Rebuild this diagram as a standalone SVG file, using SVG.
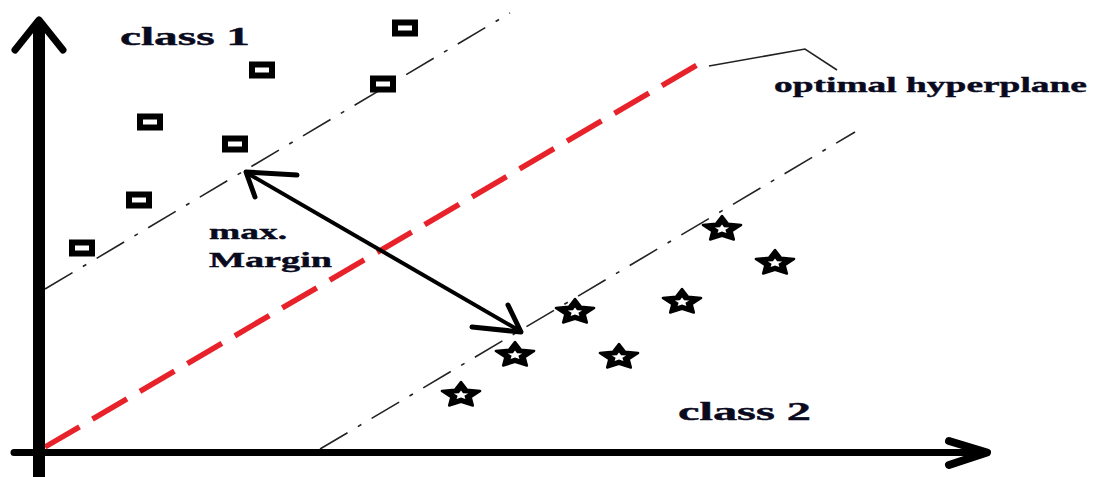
<svg xmlns="http://www.w3.org/2000/svg" width="1096" height="477" viewBox="0 0 1096 477">
<style>
.lbl{font-family:"Liberation Serif","Times New Roman",serif;font-weight:bold;fill:#0a0a1e;stroke:#0a0a1e;stroke-width:0.4}
.margin{fill:none;stroke:#222;stroke-width:1.6;stroke-dasharray:32 12 4 12}
.axis{fill:none;stroke:#000;stroke-linecap:round;stroke-linejoin:round}
.sq{fill:#fff;stroke:#000;stroke-width:6}
</style>
<defs>
<g id="star">
<polygon points="0,-13 6,-5.3 19.1,-4 9.6,2.1 11.85,10.5 0,6.8 -11.85,10.5 -9.6,2.1 -19.1,-4 -6,-5.3" fill="#000" stroke="#000" stroke-width="2.5" stroke-linejoin="round"/>
<polygon points="0,-4.6 2.1,-1.8 7.2,-1.5 3.4,0.8 4.4,4 0,2.4 -4.4,4 -3.4,0.8 -7.2,-1.5 -2.1,-1.8" fill="#fff"/>
</g>
</defs>
<rect width="1096" height="477" fill="#fff"/>
<g id="connectors">
<line class="margin" x1="45" y1="289" x2="510" y2="13"/>
<line class="margin" x1="320" y1="449" x2="855" y2="132"/>
<line x1="45" y1="447" x2="697" y2="65" stroke="#e8222a" stroke-width="5.5" stroke-dasharray="40 15"/>
<polyline points="709,66 805,49 837,70" fill="none" stroke="#222" stroke-width="1.5"/>
<line x1="39" y1="22" x2="39" y2="477" stroke="#000" stroke-width="12"/>
<polyline class="axis" points="15,50 39,20 63,50" stroke-width="7"/>
<line x1="14" y1="452.5" x2="984" y2="452.5" stroke="#000" stroke-width="7" stroke-linecap="round"/>
<polyline class="axis" points="949,441 987,452.5 949,465" stroke-width="8"/>
<line x1="247" y1="173" x2="520" y2="331" stroke="#000" stroke-width="4"/>
<polyline class="axis" points="297,175 246,172 255,197" stroke-width="5"/>
<polyline class="axis" points="472,327 521,332 508,305" stroke-width="5"/>
</g>
<g id="class1-points">
<rect class="sq" x="395" y="22.5" width="20" height="11"/>
<rect class="sq" x="252" y="64.5" width="20" height="11"/>
<rect class="sq" x="373" y="78.5" width="20" height="11"/>
<rect class="sq" x="140" y="116.5" width="20" height="11"/>
<rect class="sq" x="225" y="138.5" width="20" height="11"/>
<rect class="sq" x="129" y="194.5" width="20" height="11"/>
<rect class="sq" x="72" y="242.5" width="20" height="11"/>
</g>
<g id="class2-points">
<use href="#star" x="722" y="229"/>
<use href="#star" x="775" y="263"/>
<use href="#star" x="682" y="302"/>
<use href="#star" x="575" y="312"/>
<use href="#star" x="515" y="355"/>
<use href="#star" x="619" y="357"/>
<use href="#star" x="461" y="395"/>
</g>
<g id="labels">
<text class="lbl" x="120" y="45" font-size="25" textLength="130" lengthAdjust="spacingAndGlyphs">class 1</text>
<text class="lbl" x="678" y="420" font-size="25" textLength="133" lengthAdjust="spacingAndGlyphs">class 2</text>
<text class="lbl" x="774" y="92" font-size="22" textLength="313" lengthAdjust="spacingAndGlyphs">optimal hyperplane</text>
<text class="lbl" x="209" y="239" font-size="22" textLength="78" lengthAdjust="spacingAndGlyphs">max.</text>
<text class="lbl" x="209" y="267" font-size="22" textLength="123" lengthAdjust="spacingAndGlyphs">Margin</text>
</g>
</svg>
